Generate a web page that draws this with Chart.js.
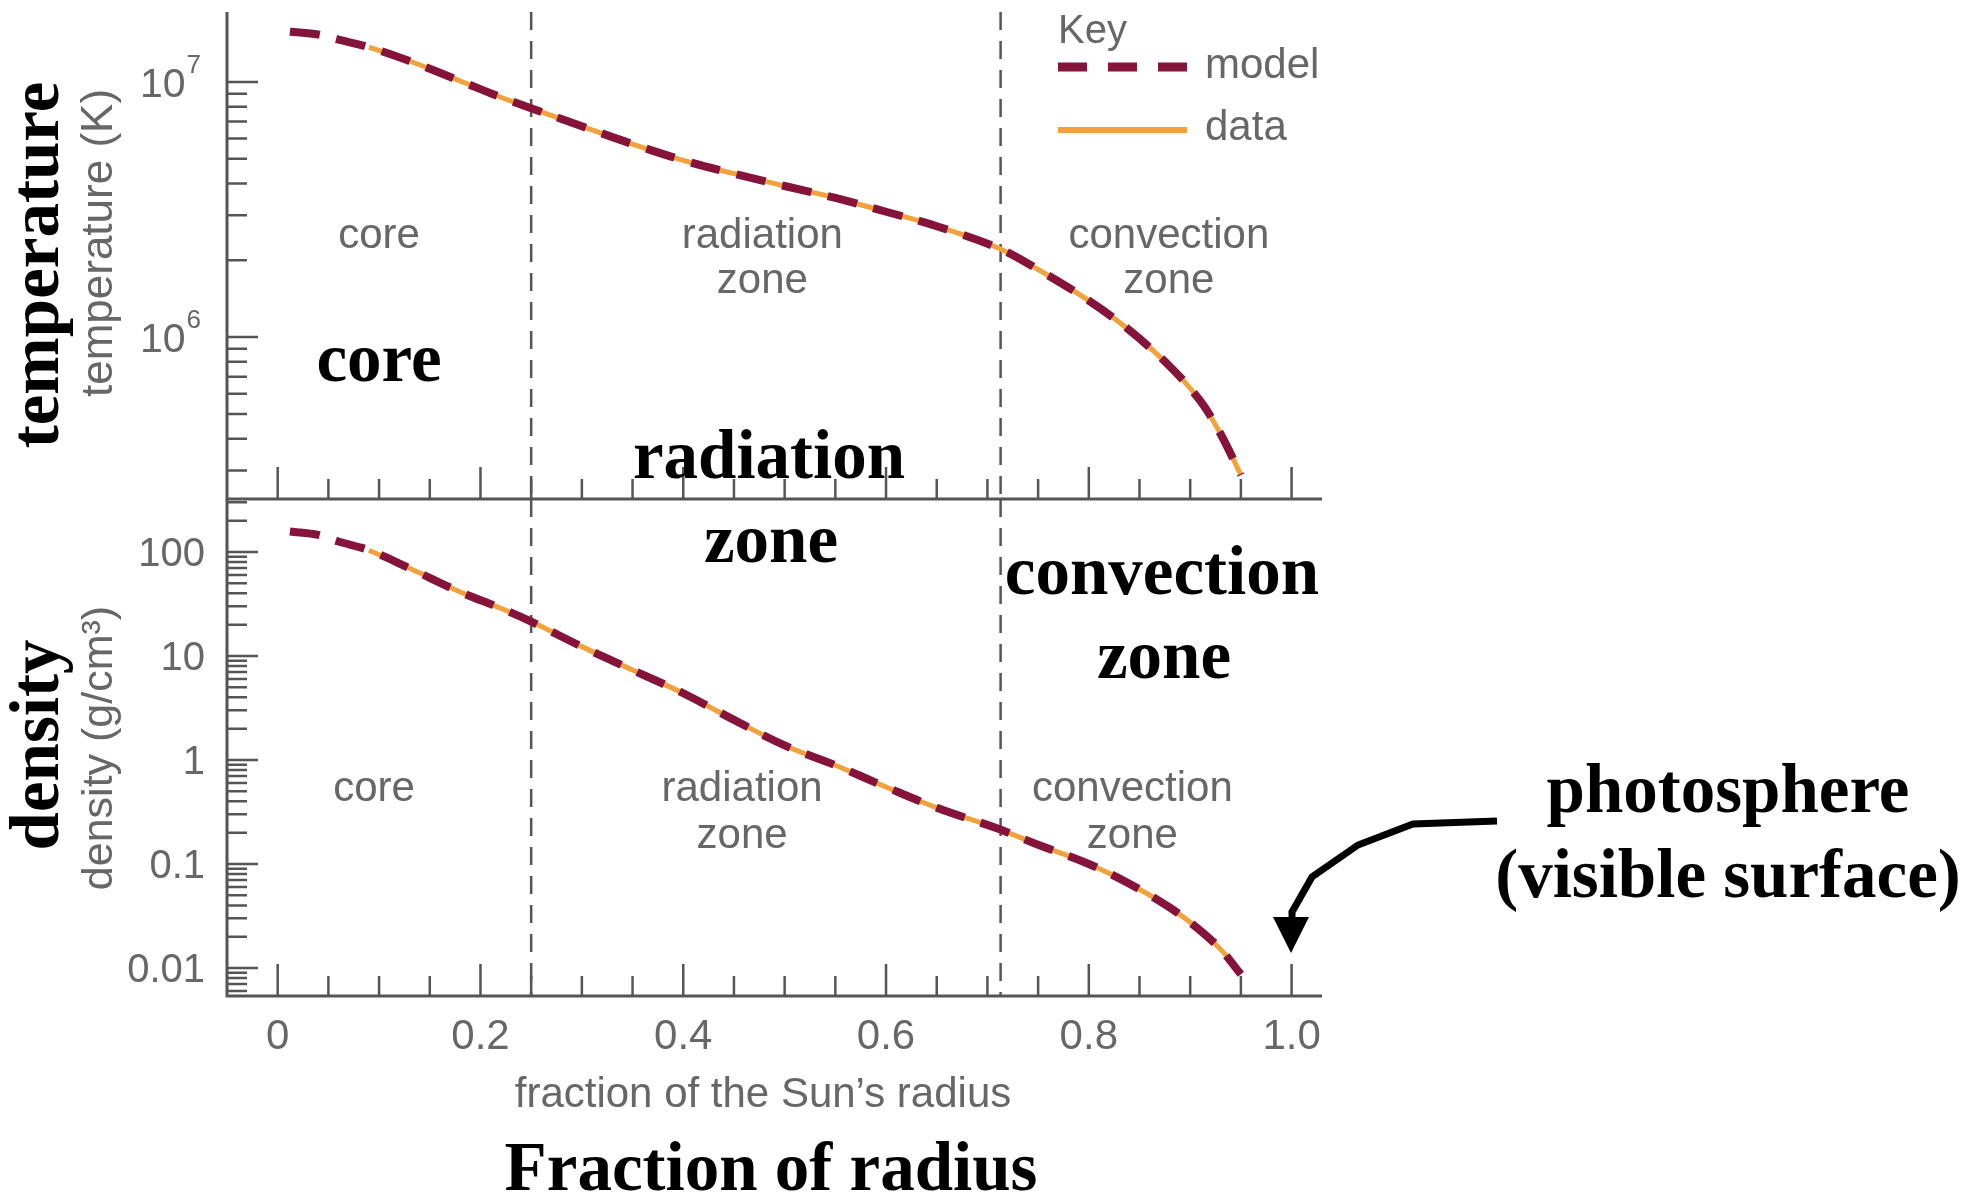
<!DOCTYPE html>
<html>
<head>
<meta charset="utf-8">
<title>Temperature and density inside the Sun</title>
<script src="https://cdn.jsdelivr.net/npm/chart.js@4.4.1/dist/chart.umd.min.js"></script>
<style>
  html, body { margin: 0; padding: 0; background: #fff; overflow: hidden; }
  #wrap { position: relative; width: 1981px; height: 1198px; }
  #wrap canvas { position: absolute; left: 0; top: 0; }
</style>
</head>
<body>
<div id="wrap">
  <canvas id="tempChart" width="1981" height="1198"></canvas>
  <canvas id="densChart" width="1981" height="1198"></canvas>
</div>
<script>
"use strict";

// fraction of the Sun's radius (same grid for both panels)
const radius = [0.012, 0.04, 0.06, 0.09, 0.13, 0.18, 0.22, 0.25, 0.30, 0.35, 0.40, 0.45,
  0.50, 0.55, 0.60, 0.65, 0.71, 0.75, 0.80, 0.84, 0.88, 0.91, 0.93, 0.95];

// temperature (K)
const modelTemperature = [1.574e7, 1.535e7, 1.466e7, 1.368e7, 1.208e7, 1.009e7, 8.71e6, 7.89e6,
  6.70e6, 5.71e6, 4.93e6, 4.37e6, 3.91e6, 3.51e6, 3.10e6, 2.72e6, 2.24e6, 1.84e6, 1.39e6,
  1.064e6, 7.67e5, 5.62e5, 4.17e5, 2.88e5];
const dataTemperature = [null, null, null, 1.368e7, 1.208e7, 1.009e7, 8.71e6, 7.89e6,
  6.70e6, 5.71e6, 4.93e6, 4.37e6, 3.91e6, 3.51e6, 3.10e6, 2.72e6, 2.24e6, 1.84e6, 1.39e6,
  1.064e6, 7.67e5, 5.62e5, 4.17e5, 2.88e5];

// density (g/cm3)
const modelDensity = [157, 146, 126, 104, 69.7, 41.2, 28.8, 21.4, 12.3, 7.33, 4.38, 2.43,
  1.38, 0.891, 0.55, 0.347, 0.219, 0.153, 0.100, 0.0646, 0.038, 0.0229, 0.0151, 0.0087];
const dataDensity = [null, null, null, 104, 69.7, 41.2, 28.8, 21.4, 12.3, 7.33, 4.38, 2.43,
  1.38, 0.891, 0.55, 0.347, 0.219, 0.153, 0.100, 0.0646, 0.038, 0.0229, 0.0151, 0.0087];

// tick labels
const xTickValues = [0, 0.2, 0.4, 0.6, 0.8, 1.0];
const xTickLabels = ["0", "0.2", "0.4", "0.6", "0.8", "1.0"];
const tempTickValues = [1e7, 1e6];
const tempTickExponents = ["7", "6"];
const densTickValues = [100, 10, 1, 0.1, 0.01];
const densTickLabels = ["100", "10", "1", "0.1", "0.01"];

// zone boundaries (fraction of radius)
const zoneBounds = [0.25, 0.713];

const SANS = '"Liberation Sans", Arial, Helvetica, sans-serif';
const SERIF = '"Liberation Serif", "Times New Roman", serif';
const AXIS_GREY = "#555";
const TEXT_GREY = "#676767";
const MAROON = "#86133a";
const ORANGE = "#f2a23c";

const points = (ys) => radius.map((r, i) => ({ x: r, y: ys[i] }));

function seriesPair(model, data) {
  return [
    {
      label: "model",
      data: points(model),
      borderColor: MAROON,
      borderWidth: 8,
      borderDash: [30, 17],
      borderCapStyle: "butt",
      tension: 0.35,
      pointRadius: 0,
    },
    {
      label: "data",
      data: points(data),
      borderColor: ORANGE,
      borderWidth: 5,
      tension: 0.35,
      pointRadius: 0,
    },
  ];
}

function text(ctx, str, x, y, font, color, align) {
  ctx.font = font;
  ctx.fillStyle = color;
  ctx.textAlign = align || "center";
  ctx.textBaseline = "alphabetic";
  ctx.fillText(str, x, y);
}

function vtext(ctx, str, x, y, font, color) {
  ctx.save();
  ctx.translate(x, y);
  ctx.rotate(-Math.PI / 2);
  text(ctx, str, 0, 0, font, color);
  ctx.restore();
}

// dashed zone boundaries, drawn under the curves
const zoneLines = {
  id: "zoneLines",
  beforeDatasetsDraw(chart) {
    const { ctx, chartArea: a, scales: { x } } = chart;
    ctx.save();
    ctx.strokeStyle = AXIS_GREY;
    ctx.lineWidth = 2.5;
    ctx.setLineDash([18, 11]);
    zoneBounds.forEach((r) => {
      const px = x.getPixelForValue(r);
      ctx.beginPath();
      ctx.moveTo(px, a.top);
      ctx.lineTo(px, a.bottom);
      ctx.stroke();
    });
    ctx.restore();
  },
};

// left and bottom axis lines with inward ticks
function drawFrame(chart) {
  const { ctx, chartArea: a, scales: { x, y } } = chart;
  ctx.save();
  ctx.strokeStyle = AXIS_GREY;
  ctx.lineWidth = 3;
  ctx.beginPath();
  ctx.moveTo(a.left, a.top);
  ctx.lineTo(a.left, a.bottom);
  ctx.lineTo(a.right, a.bottom);
  ctx.stroke();

  ctx.lineWidth = 2.5;
  ctx.beginPath();
  for (let i = 0; i <= 20; i++) {
    const px = x.getPixelForValue(i * 0.05);
    ctx.moveTo(px, a.bottom);
    ctx.lineTo(px, a.bottom - (i % 4 === 0 ? 32 : 20));
  }
  const lo = Math.floor(Math.log10(y.min));
  const hi = Math.ceil(Math.log10(y.max));
  for (let e = lo; e <= hi; e++) {
    for (let m = 1; m <= 9; m++) {
      const v = m * Math.pow(10, e);
      if (v < y.min || v > y.max) continue;
      const py = y.getPixelForValue(v);
      ctx.moveTo(a.left, py);
      ctx.lineTo(a.left + (m === 1 ? 31 : 20), py);
    }
  }
  ctx.stroke();
  ctx.restore();
}

const tempDecor = {
  id: "tempDecor",
  afterDraw(chart) {
    const { ctx, scales: { x, y } } = chart;
    drawFrame(chart);

    tempTickValues.forEach((v, i) => {
      const py = y.getPixelForValue(v);
      ctx.font = `26px ${SANS}`;
      const supW = ctx.measureText(tempTickExponents[i]).width;
      text(ctx, tempTickExponents[i], 201, py - 9, `26px ${SANS}`, TEXT_GREY, "right");
      text(ctx, "10", 200 - supW, py + 15, `41px ${SANS}`, TEXT_GREY, "right");
    });
    vtext(ctx, "temperature (K)", 112, 243, `44px ${SANS}`, TEXT_GREY);

    // zone names
    const f = `42px ${SANS}`;
    text(ctx, "core", x.getPixelForValue(0.1), 248, f, TEXT_GREY);
    text(ctx, "radiation", x.getPixelForValue(0.478), 248, f, TEXT_GREY);
    text(ctx, "zone", x.getPixelForValue(0.478), 293, f, TEXT_GREY);
    text(ctx, "convection", x.getPixelForValue(0.879), 248, f, TEXT_GREY);
    text(ctx, "zone", x.getPixelForValue(0.879), 293, f, TEXT_GREY);

    // key
    ctx.save();
    text(ctx, "Key", 1058, 43, `40px ${SANS}`, TEXT_GREY, "left");
    ctx.lineCap = "butt";
    ctx.strokeStyle = MAROON;
    ctx.lineWidth = 9;
    ctx.setLineDash([29, 21]);
    ctx.beginPath();
    ctx.moveTo(1058, 67);
    ctx.lineTo(1187, 67);
    ctx.stroke();
    ctx.setLineDash([]);
    ctx.strokeStyle = ORANGE;
    ctx.lineWidth = 6;
    ctx.beginPath();
    ctx.moveTo(1058, 130);
    ctx.lineTo(1187, 130);
    ctx.stroke();
    ctx.restore();
    text(ctx, "model", 1205, 78, `42px ${SANS}`, TEXT_GREY, "left");
    text(ctx, "data", 1205, 140, `42px ${SANS}`, TEXT_GREY, "left");
  },
};

const densDecor = {
  id: "densDecor",
  afterDraw(chart) {
    const { ctx, chartArea: a, scales: { x, y } } = chart;
    drawFrame(chart);

    densTickValues.forEach((v, i) => {
      text(ctx, densTickLabels[i], 205, y.getPixelForValue(v) + 14, `40px ${SANS}`, TEXT_GREY, "right");
    });
    vtext(ctx, "density (g/cm³)", 112, 748, `43px ${SANS}`, TEXT_GREY);

    xTickValues.forEach((v, i) => {
      text(ctx, xTickLabels[i], x.getPixelForValue(v), a.bottom + 53, `42px ${SANS}`, TEXT_GREY);
    });
    text(ctx, "fraction of the Sun’s radius", 763, 1107, `42px ${SANS}`, TEXT_GREY);

    const f = `42px ${SANS}`;
    text(ctx, "core", x.getPixelForValue(0.095), 801, f, TEXT_GREY);
    text(ctx, "radiation", x.getPixelForValue(0.458), 801, f, TEXT_GREY);
    text(ctx, "zone", x.getPixelForValue(0.458), 848, f, TEXT_GREY);
    text(ctx, "convection", x.getPixelForValue(0.843), 801, f, TEXT_GREY);
    text(ctx, "zone", x.getPixelForValue(0.843), 848, f, TEXT_GREY);

    // bold overlay labels
    const b = `bold 69px ${SERIF}`;
    vtext(ctx, "temperature", 58, 265, b, "#000");
    vtext(ctx, "density", 58, 745, b, "#000");
    text(ctx, "core", 379, 381, b, "#000");
    text(ctx, "radiation", 769, 478, b, "#000");
    text(ctx, "zone", 771, 562, b, "#000");
    text(ctx, "convection", 1162, 594, b, "#000");
    text(ctx, "zone", 1164, 678, b, "#000");
    text(ctx, "photosphere", 1728, 812, b, "#000");
    text(ctx, "(visible surface)", 1728, 897, b, "#000");
    text(ctx, "Fraction of radius", 771, 1190, b, "#000");

    // arrow to the surface
    ctx.save();
    ctx.strokeStyle = "#000";
    ctx.fillStyle = "#000";
    ctx.lineWidth = 7;
    ctx.beginPath();
    ctx.moveTo(1497, 821);
    ctx.lineTo(1413, 824);
    ctx.lineTo(1358, 845);
    ctx.lineTo(1312, 877);
    ctx.lineTo(1292, 912);
    ctx.lineTo(1292, 920);
    ctx.stroke();
    ctx.beginPath();
    ctx.moveTo(1273, 917);
    ctx.lineTo(1309, 917);
    ctx.lineTo(1291, 953);
    ctx.closePath();
    ctx.fill();
    ctx.restore();
  },
};

function panelChart(id, datasets, yMin, yMax, padding, decor) {
  return new Chart(document.getElementById(id), {
    type: "line",
    data: { datasets },
    options: {
      responsive: false,
      animation: false,
      devicePixelRatio: 1,
      events: [],
      layout: { padding },
      plugins: { legend: { display: false }, tooltip: { enabled: false } },
      scales: {
        x: { type: "linear", min: -0.05, max: 1.03, display: false },
        y: { type: "logarithmic", min: yMin, max: yMax, display: false },
      },
    },
    plugins: [zoneLines, decor],
  });
}

panelChart("tempChart", seriesPair(modelTemperature, dataTemperature), 2.32e5, 1.88e7,
  { left: 227, top: 12, right: 659, bottom: 699 }, tempDecor);
panelChart("densChart", seriesPair(modelDensity, dataDensity), 0.00538, 323,
  { left: 227, top: 499, right: 659, bottom: 202 }, densDecor);
</script>
</body>
</html>
